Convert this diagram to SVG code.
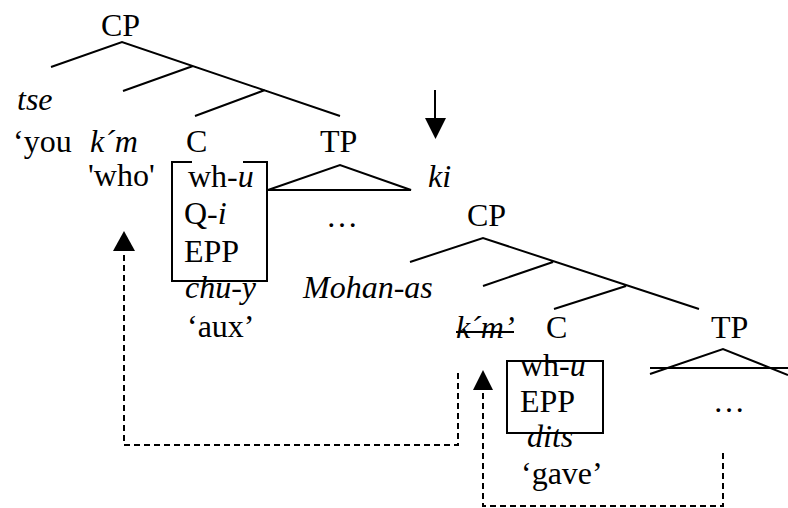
<svg xmlns="http://www.w3.org/2000/svg" width="788" height="508" viewBox="0 0 788 508">
  <style>
    text { font-family: "Liberation Serif", "Times New Roman", serif; font-size: 32px; fill: #000; }
    .it { font-style: italic; }
    .ln { stroke: #000; stroke-width: 2; fill: none; }
    .dash { stroke: #000; stroke-width: 2; fill: none; stroke-dasharray: 6 4; }
    .head { fill: #000; stroke: none; }
  </style>
  <rect width="788" height="508" fill="#fff"/>

  <!-- matrix clause tree -->
  <g id="cp-matrix">
    <text x="101" y="36">CP</text>
    <path class="ln" d="M51,67 L122,42 L340,116 M193,66 L123,91 M265,90 L195,116"/>
  </g>
  <g id="tse">
    <text class="it" x="17" y="110">tse</text>
    <text x="13" y="152">‘you</text>
  </g>
  <g id="kim-wh">
    <text class="it" x="90" y="152">k´m</text>
    <text x="88" y="186">'who'</text>
  </g>
  <g id="c-matrix">
    <text x="186" y="152">C</text>
    <path class="ln" d="M192,162 L172,162 L172,281 L267,281 L267,162 L243,162"/>
    <text x="188" y="187">wh-<tspan class="it">u</tspan></text>
    <text x="184" y="224">Q-<tspan class="it">i</tspan></text>
    <text x="184" y="262">EPP</text>
    <text class="it" x="185" y="298">chu-y</text>
    <text x="187" y="337">‘aux’</text>
  </g>
  <g id="tp-matrix">
    <text x="320" y="152">TP</text>
    <path class="ln" d="M268,190 L340,165 L411,190 Z"/>
    <text x="326" y="227">…</text>
  </g>
  <g id="ki">
    <text class="it" x="428" y="187">ki</text>
  </g>

  <!-- embedded clause tree -->
  <g id="cp-embedded">
    <text x="467" y="226">CP</text>
    <path class="ln" d="M410,262 L483,238 L699,309 M553,262 L483,286 M626,286 L554,309"/>
  </g>
  <g id="mohan">
    <text class="it" x="303" y="298">Mohan-as</text>
  </g>
  <g id="kim-trace">
    <text class="it" x="456" y="338">k´m’</text>
    <line class="ln" x1="456" y1="332" x2="514" y2="332"/>
  </g>
  <g id="c-embedded">
    <text x="546" y="338">C</text>
    <path class="ln" d="M507,361 L603,361 L603,433 L507,433 Z"/>
    <text x="520" y="376">wh-<tspan class="it">u</tspan></text>
    <text x="520" y="412">EPP</text>
    <text class="it" x="527" y="447">dits</text>
    <text x="521" y="484">‘gave’</text>
  </g>
  <g id="tp-embedded">
    <text x="711" y="338">TP</text>
    <path class="ln" d="M650,374 L723,349 L788,375 M650,368 L788,368"/>
    <text x="713" y="412">…</text>
  </g>

  <!-- connectors -->
  <g id="connectors">
    <line class="ln" x1="435" y1="90" x2="435" y2="120"/>
    <path class="head" d="M425,118 L446,118 L435.5,139 Z"/>
    <path class="dash" d="M458,373 L458,445 L124,445 L124,251"/>
    <path class="head" d="M113,251 L124,231 L135,251 Z"/>
    <path class="dash" d="M723,453 L723,506 L483,506 L483,390"/>
    <path class="head" d="M473,390 L483,370 L493,390 Z"/>
  </g>
</svg>
